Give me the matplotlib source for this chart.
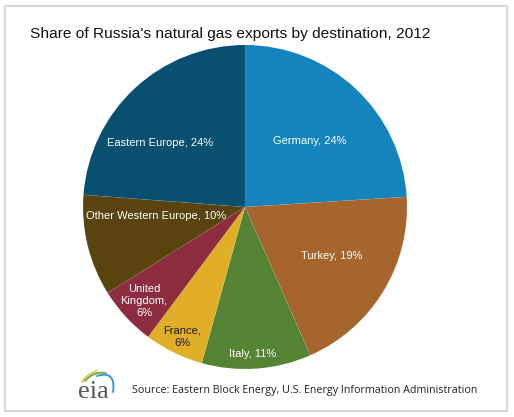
import numpy as np
import matplotlib
matplotlib.use('Agg')
import matplotlib.pyplot as plt
from matplotlib.patches import Rectangle

W, H = 514, 417

destinations = ['Germany', 'Turkey', 'Italy', 'France', 'United\nKingdom,', 'Other Western Europe', 'Eastern Europe']
shares = [24.0, 19.4, 10.9, 5.9, 5.9, 10.1, 23.8]
shown_pct = [24, 19, 11, 6, 6, 10, 24]
colors = ['#1484BC', '#A5652D', '#548433', '#E0AE27', '#8C2C3E', '#59430F', '#084F70']
label_xy = [(310, 141), (332, 256), (253, 354), (182, 337), (144, 301), (156, 216), (160, 143)]
label_colors = ['white', 'white', 'white', '#1a1a1a', 'white', 'white', 'white']


def y_px(y):
    # picture pixels count from the top
    return H - y


def arc(p0, p1, p2, color, lw):
    # small curve of the logo, given in picture pixels
    t = np.linspace(0, 1, 30)
    x = (1 - t) ** 2 * p0[0] + 2 * t * (1 - t) * p1[0] + t ** 2 * p2[0]
    y = (1 - t) ** 2 * p0[1] + 2 * t * (1 - t) * p1[1] + t ** 2 * p2[1]
    ax.plot(x, y_px(y), color=color, lw=lw, solid_capstyle='round')


fig = plt.figure(figsize=(W / 100, H / 100), dpi=100)
ax = fig.add_axes([0, 0, 1, 1])
ax.set_xlim(0, W)
ax.set_ylim(0, H)
ax.axis('off')

ax.add_patch(Rectangle((5, y_px(411)), 502, 405, facecolor='white', edgecolor='#D6D6D6', linewidth=1.5))

ax.pie(shares, colors=colors, startangle=90, counterclock=False, center=(245, y_px(207)), radius=162,
       frame=True, wedgeprops={'edgecolor': '#FFFFFF18', 'linewidth': 0.4})
ax.set_xlim(0, W)
ax.set_ylim(0, H)
ax.set_aspect('auto')
ax.axis('off')

for name, pct, (x, y), c in zip(destinations, shown_pct, label_xy, label_colors):
    if name == 'France':
        txt = 'France,\n%d%%' % pct
    elif '\n' in name:
        txt = '%s\n%d%%' % (name, pct)
    else:
        txt = '%s, %d%%' % (name, pct)
    ax.text(x, y_px(y), txt, color=c, ha='center', va='center', fontsize=8.0,
            family='Liberation Sans', linespacing=1.3)

ax.text(30, y_px(34), "Share of Russia's natural gas exports by destination, 2012", fontsize=11.13,
        family='Liberation Sans', color='#111111', ha='left', va='center')
ax.text(132, y_px(391), 'Source: Eastern Block Energy, U.S. Energy Information Administration', fontsize=7.76,
        family='Open Sans', color='#222222', ha='left', va='center')

# eia logo
ax.text(93, y_px(398), 'eia', fontsize=19, family='Liberation Serif', color='#555555', ha='center', va='baseline')
arc((82, 382), (87, 374), (97, 371), '#E8C64A', 1.4)
arc((85, 381), (94, 371), (106, 373), '#6FA544', 1.3)
arc((97, 376), (116, 370), (113, 392), '#3A9BD0', 1.4)

fig.savefig('out.png', dpi=100, facecolor='white')
